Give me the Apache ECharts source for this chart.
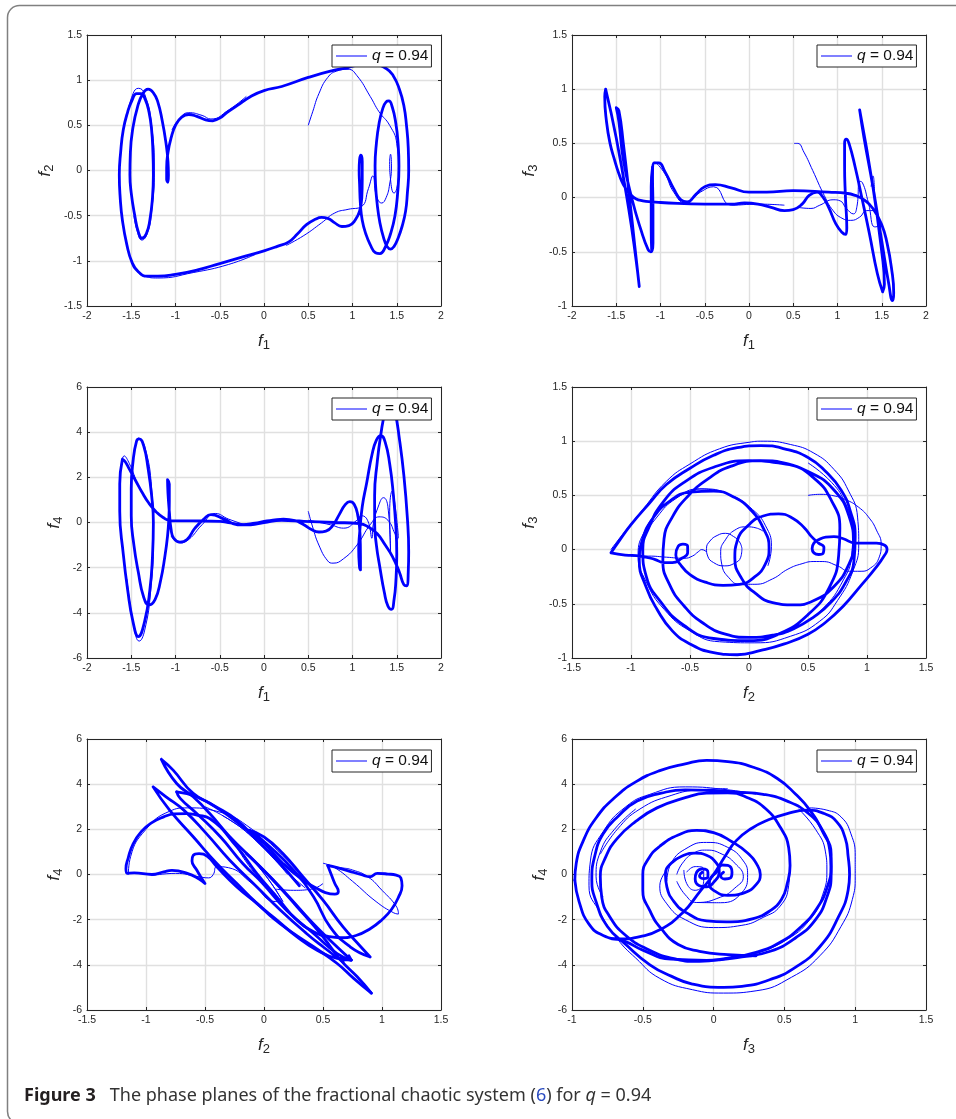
<!DOCTYPE html>
<html><head><meta charset="utf-8">
<style>html,body{margin:0;padding:0;background:#fff}#c{width:956px;height:1119px}</style>
<script src="https://cdn.jsdelivr.net/npm/echarts@6/dist/echarts.min.js"></script>
</head><body><div id="c"></div>
<script>
const BREAK = ['-','-'];
// Panel 1: f1 vs f2
const p1Thick = [[-0.58,0.55],[-0.5,0.58],[-0.42,0.64],[-0.3,0.72],[-0.15,0.82],[0,0.885],[0.2,0.93],[0.5,1.03],[0.75,1.1],[0.95,1.14],[1.1,1.17],[1.25,1.17],[1.38,1.13],[1.46,1.05],[1.53,0.9],[1.58,0.72],[1.61,0.5],[1.63,0.25],[1.635,0],[1.62,-0.25],[1.6,-0.45],[1.56,-0.62],[1.51,-0.76],[1.47,-0.84],[1.43,-0.87],[1.39,-0.84],[1.35,-0.74],[1.31,-0.58],[1.28,-0.38],[1.26,-0.15],[1.255,0.05],[1.27,0.3],[1.3,0.52],[1.34,0.68],[1.38,0.76],[1.41,0.77],[1.45,0.7],[1.49,0.52],[1.515,0.3],[1.525,0.05],[1.51,-0.25],[1.48,-0.5],[1.43,-0.7],[1.37,-0.85],[1.31,-0.92],[1.26,-0.91],[1.2,-0.82],[1.15,-0.7],[1.11,-0.55],[1.09,-0.38],[1.08,-0.15],[1.075,0],[1.08,0.12],[1.095,0.17],[1.11,0.1],[1.11,-0.1],[1.105,-0.3],[1.08,-0.45],[1.03,-0.55],[0.96,-0.61],[0.88,-0.62],[0.8,-0.58],[0.72,-0.53],[0.65,-0.52],[0.58,-0.54],[0.48,-0.6],[0.38,-0.7],[0.28,-0.79],[0.15,-0.84],[0,-0.89],[-0.25,-0.96],[-0.5,-1.03],[-0.75,-1.1],[-1,-1.15],[-1.2,-1.17],[-1.32,-1.17],[-1.42,-1.12],[-1.49,-1.02],[-1.55,-0.82],[-1.6,-0.55],[-1.625,-0.3],[-1.635,-0.05],[-1.62,0.2],[-1.59,0.45],[-1.54,0.65],[-1.49,0.78],[-1.44,0.85],[-1.39,0.85],[-1.34,0.78],[-1.3,0.65],[-1.27,0.45],[-1.255,0.2],[-1.25,-0.05],[-1.26,-0.3],[-1.29,-0.55],[-1.33,-0.7],[-1.38,-0.75],[-1.42,-0.68],[-1.46,-0.5],[-1.5,-0.25],[-1.515,-0.05],[-1.51,0.2],[-1.48,0.48],[-1.43,0.7],[-1.37,0.85],[-1.31,0.9],[-1.25,0.86],[-1.2,0.76],[-1.15,0.55],[-1.11,0.32],[-1.085,0.1],[-1.08,-0.05],[-1.085,-0.13],[-1.1,-0.1],[-1.1,0.03],[-1.085,0.2],[-1.05,0.36],[-1,0.5],[-0.93,0.59],[-0.85,0.62],[-0.76,0.6],[-0.66,0.56],[-0.58,0.55]];
const p1ThinStart = [[0.5,0.5],[0.55,0.65],[0.62,0.85],[0.72,1.03],[0.82,1.1],[0.95,1.12],[1.05,1.05],[1.2,0.82],[1.3,0.65],[1.42,0.5],[1.5,0.3],[1.52,0],[1.5,-0.2],[1.47,-0.25],[1.43,-0.1],[1.42,0.1],[1.43,0.18],[1.44,0.05],[1.42,-0.15],[1.38,-0.3],[1.33,-0.36],[1.27,-0.28],[1.23,-0.06],[1.18,-0.2],[1.1,-0.4],[0.95,-0.43],[0.8,-0.47],[0.65,-0.58],[0.45,-0.72],[0.25,-0.83]];
const p1ThinLeft = [[-1.55,0.6],[-1.48,0.85],[-1.42,0.91],[-1.35,0.85],[-1.27,0.5],[-1.24,0],[-1.27,-0.45],[-1.32,-0.7],[-1.38,-0.77],[-1.43,-0.68],[-1.47,-0.5]];
const p1ThinLow = [[-1.5,-0.98],[-1.43,-1.12],[-1.35,-1.17],[-1.2,-1.19],[-0.8,-1.13],[-0.4,-1.04],[-0.1,-0.93]];
const p1ThinUp = [[-1.04,0.45],[-0.95,0.58],[-0.85,0.64],[-0.7,0.61],[-0.6,0.57],[-0.4,0.67],[-0.2,0.82]];
// Panel 2: f1 vs f3
const p2Thick = [[-1.62,1.0],[-1.63,0.93],[-1.61,0.7],[-1.57,0.5],[-1.52,0.35],[-1.47,0.22],[-1.42,0.12],[-1.35,0.04],[-1.28,-0.01],[-1.2,-0.03],[-1.1,-0.04],[-1,-0.045],[-0.5,-0.06],[-0.2,-0.06],[-0.05,-0.05],[0.1,-0.06],[0.25,-0.09],[0.4,-0.12],[0.5,-0.11],[0.6,-0.06],[0.68,0.02],[0.77,0.05],[0.83,0.01],[0.9,-0.09],[0.98,-0.24],[1.05,-0.32],[1.09,-0.34],[1.105,-0.28],[1.09,0],[1.08,0.3],[1.08,0.5],[1.1,0.54],[1.13,0.5],[1.2,0.28],[1.28,-0.02],[1.36,-0.33],[1.45,-0.7],[1.51,-0.87],BREAK,[1.51,-0.87],[1.53,-0.8],[1.5,-0.5],[1.4,0.1],[1.25,0.81],BREAK,[1.25,0.81],[1.3,0.55],[1.4,0.1],[1.5,-0.4],[1.58,-0.8],[1.62,-0.95],[1.635,-0.88],[1.61,-0.65],[1.56,-0.42],[1.5,-0.25],[1.4,-0.1],[1.3,-0.02],[1.2,0.02],[1.1,0.04],[0.9,0.05],[0.5,0.065],[0.2,0.05],[0,0.05],[-0.2,0.09],[-0.38,0.12],[-0.5,0.1],[-0.6,0.03],[-0.7,-0.04],[-0.77,-0.02],[-0.85,0.08],[-0.95,0.24],[-1.02,0.32],[-1.07,0.32],[-1.09,0.2],[-1.085,-0.1],[-1.085,-0.42],[-1.11,-0.5],[-1.14,-0.48],[-1.22,-0.3],[-1.32,-0.02],[-1.42,0.35],[-1.47,0.7],[-1.5,0.83],[-1.47,0.8],[-1.42,0.5],[-1.35,0],[-1.29,-0.45],[-1.24,-0.82],BREAK,[-1.24,-0.82],[-1.28,-0.55],[-1.36,-0.1],[-1.5,0.55],[-1.62,1.0]];
const p2ThickVert = [[-1.09,0.28],[-1.105,0.1],[-1.105,-0.3],[-1.1,-0.48]];
const p2ThinStart = [[0.51,0.5],[0.55,0.5],[0.62,0.42],[0.72,0.25],[0.85,0.02],[0.95,-0.12],[1.05,-0.19],[1.15,-0.21],[1.25,-0.18],[1.33,-0.12],[1.42,-0.12]];
const p2ThinMid = [[0.55,-0.09],[0.7,-0.1],[0.8,-0.07],[0.95,-0.02],[1.03,-0.03],[1.1,-0.1],[1.18,-0.15],[1.22,-0.08],[1.25,0.15],[1.28,0.14],[1.35,-0.05],[1.42,-0.27],[1.47,-0.25],[1.43,-0.05],[1.4,0.2],[1.38,0.1]];
const p2ThinBand = [[-1.06,0.33],[-0.95,0.22],[-0.85,0.05],[-0.72,-0.05],[-0.55,0.05],[-0.4,0.1],[-0.2,-0.07],[0.1,-0.06],[0.4,-0.07]];
// Panel 3: f1 vs f4
const p3Thick = [[-1.6,2.8],[-1.57,2.7],[-1.52,2.35],[-1.45,1.85],[-1.38,1.35],[-1.3,0.85],[-1.22,0.48],[-1.14,0.22],[-1.05,0.08],[-0.8,0.07],[-0.5,0.05],[-0.38,-0.02],[-0.25,-0.1],[-0.1,-0.03],[0,0.05],[0.1,0.1],[0.22,0.15],[0.35,0.08],[0.45,-0.1],[0.53,-0.3],[0.62,-0.42],[0.7,-0.38],[0.78,-0.12],[0.85,0.35],[0.92,0.8],[0.97,0.92],[1.02,0.8],[1.06,0.3],[1.085,-0.5],[1.09,-1.5],[1.09,-2.1],[1.08,-2],[1.07,-1.2],[1.08,-0.5],[1.11,0.7],[1.16,1.75],[1.22,3.0],[1.27,3.65],[1.32,3.85],[1.37,3.55],[1.42,2.6],[1.46,1.3],[1.49,-0.2],[1.5,-1.4],[1.49,-2.6],[1.47,-3.4],[1.44,-3.85],[1.4,-3.7],[1.36,-3.1],[1.31,-2],[1.27,-1],[1.25,0],[1.25,1.2],[1.28,2.7],[1.32,3.9],[1.37,4.9],[1.43,5.4],[1.48,4.9],[1.53,3.7],[1.58,2.1],[1.62,0.2],[1.635,-1.3],[1.63,-2.2],[1.61,-2.8],[1.58,-2.75],[1.53,-2.2],[1.45,-1.5],[1.37,-1],[1.28,-0.5],[1.18,-0.2],[1.08,-0.05],[0.8,0],[0.45,0.05],[0.2,0.1],[0,0],[-0.15,-0.1],[-0.3,-0.1],[-0.45,0.15],[-0.6,0.35],[-0.68,0.15],[-0.78,-0.25],[-0.87,-0.75],[-0.95,-0.87],[-1.02,-0.7],[-1.05,-0.3],[-1.07,0.5],[-1.085,1.3],[-1.09,1.9],[-1.07,1.7],[-1.07,0.9],[-1.075,0.2],[-1.09,-0.6],[-1.12,-1.5],[-1.17,-2.6],[-1.23,-3.4],[-1.3,-3.65],[-1.36,-3.3],[-1.42,-2.2],[-1.47,-1],[-1.5,0.3],[-1.5,1.5],[-1.48,2.7],[-1.44,3.6],[-1.41,3.7],[-1.36,3.4],[-1.31,2.4],[-1.27,1.2],[-1.25,0],[-1.26,-1.5],[-1.29,-3],[-1.35,-4.4],[-1.42,-5.05],[-1.48,-4.4],[-1.54,-3],[-1.59,-1.4],[-1.63,0.5],[-1.63,1.7],[-1.6,2.8]];
const p3ThinStart = [[0.5,0.5],[0.55,-0.2],[0.62,-1.0],[0.72,-1.7],[0.78,-1.8],[0.9,-1.6],[1.05,-1.0],[1.2,-0.1],[1.3,0.25],[1.4,0.1],[1.48,-0.5],[1.51,-0.75]];
const p3ThinMid = [[0.5,0.1],[0.75,-0.1],[0.9,-0.25],[1.05,0.1],[1.1,0.3],[1.17,0.1],[1.22,-0.7],[1.23,-0.2],[1.3,0.8],[1.35,1.1],[1.4,0.7],[1.43,-1.3],[1.42,0.5],[1.45,1.4],[1.48,0.8],[1.52,-0.7]];
const p3ThinLeft = [[-1.55,-2.5],[-1.47,-4.6],[-1.41,-5.25],[-1.35,-4.8],[-1.28,-3],[-1.25,-0.5],[-1.27,1.5],[-1.35,3.4],[-1.42,3.75]];
const p3ThinTop = [[-1.62,2.2],[-1.58,2.95],[-1.52,2.6],[-1.45,1.9]];
const p3ThinWave = [[-1.05,-0.6],[-0.95,-0.9],[-0.85,-0.75],[-0.7,-0.1],[-0.55,0.4],[-0.4,0.15],[-0.2,-0.12]];
// Panel 4: f2 vs f3
const p4Thick = [[-1.17,-0.03],[-1.1,0.08],[-1.0,0.23],[-0.85,0.42],[-0.7,0.6],[-0.5,0.75],[-0.3,0.87],[-0.1,0.94],[0.1,0.96],[0.3,0.93],[0.5,0.85],[0.65,0.72],[0.78,0.55],[0.86,0.35],[0.9,0.12],[0.89,-0.1],[0.82,-0.3],[0.7,-0.48],[0.55,-0.62],[0.38,-0.73],[0.2,-0.79],[0,-0.81],[-0.2,-0.78],[-0.4,-0.67],[-0.55,-0.52],[-0.67,-0.33],[-0.73,-0.1],[-0.72,0.1],[-0.65,0.3],[-0.52,0.49],[-0.35,0.65],[-0.15,0.77],[0.1,0.82],[0.33,0.79],[0.55,0.66],[0.7,0.45],[0.77,0.2],[0.76,-0.05],[0.68,-0.35],[0.5,-0.6],[0.25,-0.78],[0,-0.84],[-0.3,-0.82],[-0.55,-0.7],[-0.75,-0.48],[-0.87,-0.25],[-0.9,0],[-0.85,0.2],[-0.72,0.45],[-0.55,0.62],[-0.3,0.76],[0,0.82],[0.25,0.8],[0.5,0.72],[0.72,0.55],[0.85,0.3],[0.885,0.05],[0.84,-0.15],[0.72,-0.34],[0.55,-0.47],[0.38,-0.51],[0.2,-0.49],[0.05,-0.4],[-0.06,-0.27],[-0.12,-0.08],[-0.1,0.08],[0,0.23],[0.12,0.31],[0.25,0.33],[0.37,0.29],[0.47,0.2],[0.53,0.12],[0.59,0.06],[0.635,0.02],[0.63,-0.03],[0.59,-0.045],[0.55,-0.03],[0.535,0.01],[0.55,0.06],[0.59,0.09],[0.65,0.115],[0.72,0.12],[0.8,0.1],[0.9,0.06],[1.0,0.06],[1.08,0.06],[1.15,0.04],[1.17,0.0],[1.15,-0.05],[1.08,-0.16],[0.95,-0.33],[0.8,-0.52],[0.65,-0.67],[0.5,-0.78],[0.3,-0.87],[0.1,-0.93],[-0.1,-0.97],[-0.3,-0.95],[-0.5,-0.87],[-0.65,-0.75],[-0.78,-0.55],[-0.87,-0.35],[-0.93,-0.1],[-0.9,0.1],[-0.82,0.28],[-0.68,0.44],[-0.5,0.53],[-0.3,0.54],[-0.12,0.48],[0.02,0.36],[0.12,0.2],[0.17,0.02],[0.14,-0.13],[0.05,-0.25],[-0.08,-0.32],[-0.22,-0.33],[-0.37,-0.3],[-0.5,-0.23],[-0.58,-0.14],[-0.62,-0.05],[-0.6,0.03],[-0.56,0.05],[-0.52,0.03],[-0.52,-0.03],[-0.57,-0.08],[-0.65,-0.12],[-0.72,-0.12],[-0.8,-0.09],[-0.92,-0.06],[-1.05,-0.05],[-1.17,-0.03]];
const p4ThinStart = [[0.5,0.5],[0.6,0.51],[0.7,0.5],[0.82,0.46],[0.93,0.39],[1.02,0.29],[1.08,0.18],[1.12,0.05],[1.1,-0.08],[1.03,-0.17],[0.95,-0.2],[0.85,-0.2],[0.75,-0.15],[0.62,-0.11],[0.55,-0.11],[0.45,-0.13],[0.33,-0.18],[0.2,-0.27],[0.05,-0.32],[-0.08,-0.32],[-0.17,-0.26],[-0.23,-0.14],[-0.24,-0.02],[-0.2,0.09],[-0.12,0.18],[-0.02,0.21],[0.06,0.2],[0.12,0.17]];
const p4ThinCircle = [[-0.06,0.01],[-0.07,-0.07],[-0.13,-0.13],[-0.21,-0.15],[-0.3,-0.12],[-0.35,-0.06],[-0.36,0.01],[-0.33,0.08],[-0.27,0.13],[-0.2,0.15],[-0.13,0.12],[-0.08,0.07],[-0.06,0.01]];
const p4ThinKink = [[-0.36,-0.02],[-0.4,0],[-0.43,-0.02],[-0.48,-0.06],[-0.55,-0.08],[-0.7,-0.07],[-0.85,-0.06],[-1,-0.06]];
const p4ThinOuter = [[-1.17,0],[-1.05,0.17],[-0.9,0.37],[-0.7,0.63],[-0.5,0.79],[-0.25,0.93],[0,0.99],[0.12,1.0],[0.35,0.97],[0.55,0.89],[0.72,0.74],[0.84,0.55],[0.92,0.3],[0.93,0.05],[0.88,-0.2],[0.75,-0.47],[0.6,-0.66],[0.35,-0.8],[0.05,-0.86],[-0.25,-0.85],[-0.5,-0.75],[-0.72,-0.55],[-0.87,-0.3],[-0.94,-0.05],[-0.88,0.18],[-0.75,0.37],[-0.58,0.5],[-0.38,0.56],[-0.15,0.5],[0.03,0.37],[0.14,0.22],[0.19,0.03],[0.16,-0.15]];
const p4ThinRight = [[0.5,0.8],[0.7,0.62],[0.82,0.42],[0.88,0.2],[0.87,-0.05],[0.8,-0.28],[0.62,-0.55],[0.4,-0.72]];
const p4ThinLeft = [[-0.92,-0.05],[-0.88,0.12],[-0.78,0.3],[-0.62,0.47],[-0.42,0.56],[-0.2,0.53]];
// Panel 5: f2 vs f4
const p5Arc = [[0.54,0.4],[0.62,0.3],[0.72,0.15],[0.82,0],[0.9,-0.1],[0.96,0.05],[1.05,0.02],[1.12,-0.03],[1.16,-0.15],[1.17,-0.5],[1.14,-1],[1.08,-1.55],[1,-2],[0.9,-2.4],[0.78,-2.7],[0.65,-2.8],[0.55,-2.75],[0.45,-2.61],[0.28,-2.02],[0.11,-1.0],[-0.06,0.04],[-0.23,1.22],[-0.46,2.48],[-0.56,2.62],[-0.66,2.7],[-0.76,2.68],[-0.85,2.55],[-0.95,2.3],[-1.04,1.9],[-1.11,1.35],[-1.15,0.75],[-1.17,0.25],[-1.16,0.05],[-1.1,0.07],[-0.95,0],[-0.85,0.12],[-0.78,0.18],[-0.65,0.05],[-0.55,-0.2],[-0.5,-0.4],[-0.53,-0.15],[-0.57,0.2],[-0.61,0.6],[-0.6,0.85],[-0.55,0.92],[-0.48,0.8],[-0.4,0.34],[-0.23,-0.55],[-0.06,-1.28],[0.08,-1.95],[0.25,-2.61],[0.42,-3.2],[0.62,-3.94],[0.76,-4.6],[0.91,-5.25]];
const p5Upper = [[-0.74,3.66],[-0.57,3.44],[-0.37,2.85],[-0.18,2.11],[0,1.37],[0.16,0.49],[0.33,-0.25],[0.45,-0.62],[0.52,-0.8],[0.6,-0.87],[0.63,-0.75],[0.6,-0.4],[0.57,0],[0.54,0.4]];
const p5Lens = [[-0.12,1.96],[0.05,1.23],[0.25,0.19],[0.42,-0.99],[0.56,-2.32],[0.73,-3.2],[0.9,-3.65],BREAK,[0.9,-3.65],[0.82,-3.2],[0.67,-2.32],[0.5,-1.14],[0.33,-0.1],[0.16,0.93],[0,1.67],[-0.13,1.96]];
const p5TipTop = [[-0.87,5.1],[-0.74,4.03],[-0.6,3.44],[-0.46,2.7],[-0.29,1.67],[-0.06,0.49],[0.16,-0.69],[0.39,-2.02],[0.56,-2.91],[0.74,-3.79],[0.65,-3.7],BREAK,[-0.87,5.1],[-0.77,4.62],[-0.6,3.59],[-0.43,3.07],[-0.23,2.41],[-0.06,1.52],[0.11,0.63],[0.3,-0.5]];
const p5Second = [[-0.94,3.88],[-0.8,2.85],[-0.6,1.67],[-0.4,0.49],[-0.23,-0.4],[-0.06,-1.28],[0.11,-2.02],[0.28,-2.76],[0.45,-3.35],[0.62,-3.72],[0.74,-3.79],BREAK,[-0.94,3.88],[-0.83,3.44],[-0.68,2.85],[-0.49,1.82],[-0.29,0.63],[-0.06,-0.55],[0.14,-1.58],[0.36,-2.61],[0.5,-3.2],[0.67,-3.87]];
const p5LensLow = [[-0.74,3.66],[-0.71,3.37],[-0.57,2.7],[-0.37,1.67],[-0.18,0.49],[-0.01,-0.4],[0.19,-1.58],[0.42,-2.61],[0.62,-3.5],[0.74,-3.79],[0.72,-3.6]];
const p5TipLow = [[0.91,-5.25],[0.79,-4.53],[0.65,-3.79],[0.5,-2.76],[0.28,-1.43],[0.05,-0.1],[-0.15,0.93]];
const p5ThinStart = [[0.5,0.5],[0.6,0.3],[0.75,-0.3],[0.95,-1.2],[1.1,-1.7],[1.14,-1.75],[1.12,-1.4],[1.0,-0.7],[0.88,-0.1],[0.75,0.2],[0.65,0.3],[0.55,0.35]];
const p5ThinArc = [[-1.15,0],[-1.13,0.8],[-1.0,2],[-0.8,2.8],[-0.65,2.95],[-0.4,2.8],[-0.1,2],[0.2,0.6],[0.4,-0.6]];
const p5ThinLow = [[-0.95,-0.05],[-0.75,0.05],[-0.55,-0.1],[-0.47,-0.15],[-0.43,0],[-0.4,0.35],[-0.3,0.3],[-0.1,-0.4],[0.1,-1.2],[0.15,-1.2],[-0.1,0.2],[-0.25,1.4]];
const p5ThinTail = [[0.1,-0.65],[0.25,-0.7],[0.4,-0.65],[0.5,-0.4]];
const p5ThinBandA = [[-0.5,3],[-0.3,2.45],[-0.1,1.65],[0.1,0.6],[0.2,0]];
const p5ThinBandB = [[-0.35,2.6],[-0.15,1.9],[0.05,0.9],[0.2,0.1],[0.35,-0.6]];
const p5ThinBandC = [[-0.23,1.37],[0,0.04],[0.16,-1.2],[0.05,-0.3],[-0.1,0.7]];
// Panel 6: f3 vs f4
const p6Big = [[-0.98,-0.25],[-0.97,0.5],[-0.92,1.5],[-0.83,2.5],[-0.7,3.4],[-0.55,4.1],[-0.38,4.6],[-0.2,4.9],[-0.05,5.05],[0.1,5],[0.28,4.75],[0.45,4.25],[0.58,3.55],[0.68,2.85],[0.77,1.9],[0.83,0.9],[0.83,0],[0.8,-1],[0.72,-2],[0.58,-2.8],[0.4,-3.4],[0.2,-3.65],[-0.05,-3.8],[-0.3,-3.75],[-0.5,-3.35],[-0.63,-2.95],[-0.72,-2.85]];
const p6Loop = [[-0.98,-0.25],[-0.95,-1.2],[-0.88,-2.2],[-0.78,-2.7],[-0.66,-2.85],[-0.52,-2.75],[-0.38,-2.45],[-0.22,-1.7],[-0.09,-0.7],[0,0],[0.08,0.8],[0.16,1.5],[0.27,2.05],[0.38,2.4],[0.52,2.7],[0.66,2.85],[0.78,2.7],[0.87,2.33],[0.93,1.6],[0.95,0.8],[0.96,0],[0.95,-0.7],[0.88,-1.9],[0.75,-3.2],[0.58,-4.1],[0.4,-4.65],[0.2,-4.95],[0.07,-5],[-0.15,-4.85],[-0.3,-4.5],[-0.45,-4],[-0.62,-3.1],[-0.75,-2.3],[-0.83,-1.2],[-0.86,-0.25],[-0.84,0.8],[-0.78,1.8],[-0.67,2.6],[-0.54,3.25],[-0.37,3.6],[-0.2,3.75],[0,3.72],[0.16,3.65],[0.35,3.55],[0.52,3.25],[0.67,2.7],[0.77,1.95],[0.82,1.1],[0.83,0.35],[0.8,-0.6],[0.73,-1.5],[0.62,-2.3],[0.47,-3],[0.3,-3.45],[0.1,-3.7],[-0.1,-3.85],[-0.3,-3.7],[-0.47,-3.3],[-0.62,-2.7],[-0.73,-1.9],[-0.79,-1],[-0.8,-0.1],[-0.76,0.8],[-0.68,1.6],[-0.55,2.35],[-0.4,2.95],[-0.2,3.4],[-0.05,3.6],[0.1,3.62],[0.24,3.4],[0.37,2.9],[0.47,2.1],[0.53,1.2],[0.54,0.4],[0.52,-0.4],[0.48,-1.1],[0.4,-1.6],[0.28,-1.95],[0.09,-2.1],[-0.05,-2.05],[-0.19,-1.7],[-0.28,-1.2],[-0.33,-0.55],[-0.34,0],[-0.3,0.5],[-0.21,0.85],[-0.13,0.95],[-0.05,0.85],[0.02,0.5],[0.04,0.1],[0,-0.35],[-0.05,-0.55],[-0.1,-0.5],[-0.13,-0.2],[-0.12,0.1],[-0.08,0.25],[-0.04,0.1],[-0.04,-0.1],[-0.07,-0.18],[-0.1,-0.05],[-0.08,0.1]];
const p6Mid = [[0.3,-3.6],[0.1,-3.55],[-0.1,-3.4],[-0.25,-3.1],[-0.37,-2.4],[-0.45,-1.6],[-0.5,-0.7],[-0.5,0],[-0.46,0.7],[-0.38,1.25],[-0.25,1.75],[-0.12,1.95],[0,1.85],[0.13,1.45],[0.24,0.95],[0.31,0.4],[0.33,0],[0.3,-0.45],[0.22,-0.8],[0.1,-0.92],[0,-0.7],[-0.03,-0.4],[-0.02,-0.15],[0.02,0.1],[0.06,0.42],[0.1,0.4],[0.13,0.1],[0.12,-0.15],[0.08,-0.2],[0.05,-0.05],[0.07,0.1]];
const p6ThinOuter = [[0.68,2.95],[0.8,2.85],[0.9,2.55],[0.97,1.8],[1.0,0.8],[1.0,-0.1],[0.98,-1.1],[0.9,-2.3],[0.75,-3.6],[0.55,-4.55],[0.3,-5.15],[0.07,-5.25],[-0.15,-5.1],[-0.38,-4.6],[-0.55,-3.7],[-0.68,-2.85],[-0.8,-1.7],[-0.88,-0.5],[-0.87,0.6],[-0.78,1.9],[-0.62,3],[-0.45,3.55],[-0.2,3.88],[0.1,3.75],[0.3,3.55]];
const p6ThinRingA = [[-0.26,0],[-0.22,0.5],[-0.14,0.95],[-0.05,1.08],[0.06,0.9],[0.15,0.5],[0.21,-0.1],[0.15,-0.6],[0.05,-1],[-0.12,-1.24],[-0.2,-0.9],[-0.26,-0.3]];
const p6ThinRingB = [[-0.33,-0.3],[-0.3,0.5],[-0.18,1.2],[-0.05,1.42],[0.1,1.2],[0.21,0.6],[0.24,0],[0.2,-0.8],[0.05,-1.25],[-0.12,-1.24]];
const p6ThinRingC = [[-0.21,0.2],[-0.19,-0.4],[-0.13,-0.7],[-0.07,-0.3],[-0.07,0.25],[-0.13,0.35],[-0.19,0.1]];
const p6ThinRingD = [[0.54,0.4],[0.53,-0.5],[0.47,-1.4],[0.35,-1.9],[0.2,-2.25],[0,-2.35],[-0.2,-2.0],[-0.33,-1.3],[-0.38,-0.5],[-0.33,0.2]];
const p6ThinRingE = [[-0.8,0.9],[-0.68,2],[-0.52,2.9],[-0.3,3.5],[-0.1,3.75],[0.1,3.8]];
const p6ThinRight = [[0.6,2.9],[0.72,2],[0.79,1],[0.8,0.2],[0.77,-0.9],[0.68,-2],[0.5,-2.95],[0.3,-3.5]];
const p6ThinLeft = [[-0.78,-1],[-0.83,-0.1],[-0.8,1],[-0.7,2],[-0.55,2.9]];

const qName = 'q = 0.94';
const panels = [
  {thick:[p1Thick], thin:[p1ThinStart,p1ThinLeft,p1ThinLow,p1ThinUp], xMin:-2, xMax:2, yMin:-1.5, yMax:1.5, yInt:0.5, xName:'1', yName:'2', left:87, top:35, gapY:31, legX:332, legY:45},
  {thick:[p2Thick,p2ThickVert], thin:[p2ThinStart,p2ThinMid,p2ThinBand], xMin:-2, xMax:2, yMin:-1, yMax:1.5, yInt:0.5, xName:'1', yName:'3', left:572, top:35, gapY:32, legX:817, legY:45},
  {thick:[p3Thick], thin:[p3ThinStart,p3ThinMid,p3ThinLeft,p3ThinTop,p3ThinWave], xMin:-2, xMax:2, yMin:-6, yMax:6, yInt:2, xName:'1', yName:'4', left:87, top:387, gapY:22, legX:332, legY:398},
  {thick:[p4Thick], thin:[p4ThinStart,p4ThinCircle,p4ThinKink,p4ThinOuter,p4ThinRight,p4ThinLeft], xMin:-1.5, xMax:1.5, yMin:-1, yMax:1.5, yInt:0.5, xName:'2', yName:'3', left:572, top:387, gapY:32, legX:817, legY:398},
  {thick:[p5Arc,p5Upper,p5Lens,p5TipTop,p5Second,p5LensLow,p5TipLow], thin:[p5ThinStart,p5ThinArc,p5ThinLow,p5ThinTail,p5ThinBandA,p5ThinBandB,p5ThinBandC], xMin:-1.5, xMax:1.5, yMin:-6, yMax:6, yInt:2, xName:'2', yName:'4', left:87, top:739, gapY:22, legX:332, legY:750},
  {thick:[p6Loop,p6Big,p6Mid], thin:[p6ThinOuter,p6ThinRingA,p6ThinRingB,p6ThinRingC,p6ThinRingD,p6ThinRingE,p6ThinRight,p6ThinLeft], xMin:-1, xMax:1.5, yMin:-6, yMax:6, yInt:2, xName:'3', yName:'4', left:572, top:739, gapY:22, legX:817, legY:750}
];
const W = 354, H = 271, BLUE = '#0000ff', INK = '#262626', FONT = '"Liberation Sans", Arial, sans-serif';
const nameRich = {f:{fontFamily:FONT,fontStyle:'italic',fontSize:17,color:INK}, s:{fontFamily:FONT,fontSize:13,color:INK,padding:[9,0,0,0]}};
const grid=[],xAxis=[],yAxis=[],legend=[],series=[];
const SM = {smooth:0.5,smoothConstraint:false,showSymbol:false,symbol:'none',silent:true};
panels.forEach((p,i)=>{
  grid.push({left:p.left,top:p.top,width:W,height:H});
  const common = {splitLine:{show:true,lineStyle:{color:'#e0e0e0',width:1.4}},axisLine:{show:true,onZero:false,lineStyle:{color:INK,width:1}},axisTick:{show:true,inside:true,length:3,lineStyle:{color:INK,width:1}}};
  const lab = {show:true,color:INK,fontSize:10.5,fontFamily:FONT,margin:5,hideOverlap:false,showMinLabel:true,showMaxLabel:true};
  xAxis.push({type:'value',gridIndex:i,position:'bottom',min:p.xMin,max:p.xMax,interval:0.5,...common,axisLabel:lab,name:`{f|f}{s|${p.xName}}`,nameLocation:'middle',nameGap:24,nameTextStyle:{rich:nameRich}});
  xAxis.push({type:'value',gridIndex:i,position:'top',min:p.xMin,max:p.xMax,interval:0.5,...common,splitLine:{show:false},axisLabel:{show:false}});
  yAxis.push({type:'value',gridIndex:i,position:'left',min:p.yMin,max:p.yMax,interval:p.yInt,...common,axisLabel:lab,name:`{f|f}{s|${p.yName}}`,nameLocation:'middle',nameGap:p.gapY,nameTextStyle:{rich:nameRich}});
  yAxis.push({type:'value',gridIndex:i,position:'right',min:p.yMin,max:p.yMax,interval:p.yInt,...common,splitLine:{show:false},axisLabel:{show:false}});
  const xi=i*2, yi=i*2;
  p.thin.forEach((d,k)=>series.push({type:'line',name:k===0?qName:('thin'+i+k),xAxisIndex:xi,yAxisIndex:yi,data:d,...SM,lineStyle:{color:BLUE,width:1},itemStyle:{color:BLUE},z:2}));
  p.thick.forEach((d,k)=>series.push({type:'line',name:'thick'+i+k,xAxisIndex:xi,yAxisIndex:yi,data:d,...SM,lineStyle:{color:BLUE,width:2.8,join:'round',cap:'round'},z:3}));
  legend.push({show:true,left:p.legX,top:p.legY,orient:'horizontal',data:[qName],selectedMode:false,backgroundColor:'#fff',borderColor:INK,borderWidth:1,borderRadius:0,padding:[3,3,3,4],icon:'rect',itemWidth:31,itemHeight:1,itemGap:4,itemStyle:{color:BLUE,borderWidth:0},
    formatter:()=>'{i|q} = 0.94',textStyle:{fontFamily:FONT,fontSize:15.5,color:'#111',rich:{i:{fontFamily:FONT,fontStyle:'italic',fontSize:15.5,color:'#111'}}},z:10});
});
const capFont = '"Noto Sans", sans-serif';
const chart = echarts.init(document.getElementById('c'),null,{renderer:'canvas'});
chart.setOption({animation:false,backgroundColor:'#fff',grid,xAxis,yAxis,legend,series,
  title:{left:24,top:1087,padding:0,text:'{b|Figure 3}{t|   The phase planes of the fractional chaotic system (}{l|6}{t|) for }{i|q}{t| = 0.94}',
    textStyle:{fontWeight:'normal',rich:{b:{fontFamily:capFont,fontWeight:'bold',fontSize:18,color:'#231f20'},t:{fontFamily:capFont,fontWeight:'normal',fontSize:18,color:'#333'},l:{fontFamily:capFont,fontWeight:'normal',fontSize:18,color:'#2a4bc0'},i:{fontFamily:capFont,fontWeight:'normal',fontStyle:'italic',fontSize:18,color:'#333'}}}},
  graphic:[{type:'rect',silent:true,z:0,shape:{x:7.5,y:5.5,width:1000,height:1118,r:12},style:{fill:'none',stroke:'#808080',lineWidth:1.5}}]
});
</script></body></html>
